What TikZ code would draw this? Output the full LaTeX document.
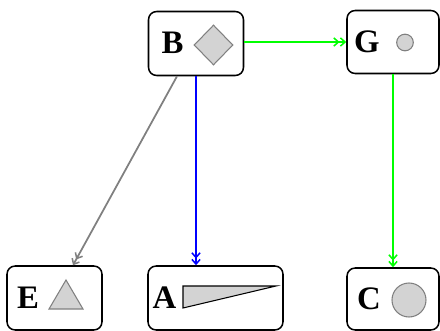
\documentclass[tikz,border=0pt]{standalone}
\usepackage{fontspec}
\setmainfont{Liberation Serif}
\usetikzlibrary{arrows.meta, shapes.geometric}
\definecolor{shapegray}{HTML}{D3D3D3}
\definecolor{edgegray}{HTML}{808080}
\definecolor{linkgreen}{HTML}{00FF00}

\begin{document}
\begin{tikzpicture}[x=0.03cm, y=-0.03cm,
      box/.style={draw, line width=1.3pt, rounded corners=7pt, minimum height=1.92cm, inner sep=0pt},
      lbl/.style={font=\fontsize{28}{28}\selectfont\bfseries, inner sep=0pt},
      glyph/.style={draw=edgegray, fill=shapegray, line width=0.9pt, inner sep=0pt},
      arrow/.style={-{Straight Barb[length=4pt,width=7pt,line width=1.3pt] Straight Barb[length=4pt,width=7pt,line width=1.3pt]}, line width=1.5pt}
    ]
      \useasboundingbox (0,0) rectangle (440,331);
      \node[box, minimum width=2.85cm] (b) at (196,43.5) {};
      \node[box, minimum width=2.76cm, minimum height=1.89cm] (g) at (393,42) {};
      \node[box, minimum width=2.85cm] (e) at (54.5,298) {};
      \node[box, minimum width=4.05cm] (a) at (215.5,298) {};
      \node[box, minimum width=2.76cm, minimum height=1.86cm] (c) at (393,299) {};
      \node[lbl] (bl) at (172.5,43) {B};
      \node[lbl] (gl) at (367,42) {G};
      \node[lbl] (el) at (28,298) {E};
      \node[lbl] (al) at (164.5,298) {A};
      \node[lbl] (cl) at (369,299) {C};
      \node[glyph, diamond, minimum width=1.17cm, minimum height=1.2cm] (bd) at (213.5,45) {};
      \node[glyph, circle, minimum size=0.5cm] (gc) at (405,42.5) {};
      \node[glyph, circle, minimum size=1.02cm] (cc) at (409,300) {};
      \draw[glyph] (49,309) -- (66,280) -- (83,309) -- cycle;
      \draw[fill=shapegray, line width=0.9pt] (183,286) -- (276,286) -- (183,308) -- cycle;
      \draw[arrow, linkgreen] (b.east |- g.west) -- (g.west);
      \draw[arrow, blue] (b.south) -- (b.south |- a.north);
      \draw[arrow, linkgreen] (g.south) -- (g.south |- c.north);
      \draw[arrow, edgegray] ([xshift=-0.57cm]b.south) -- ([xshift=0.555cm]e.north);
    \end{tikzpicture}
\end{document}
